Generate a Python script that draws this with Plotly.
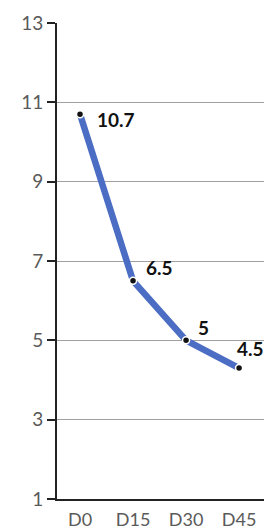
import plotly.graph_objects as go

categories = ["D0", "D15", "D30", "D45"]
values = [10.7, 6.5, 5.0, 4.3]
labels = ["10.7", "6.5", "5", "4.5"]
y_ticks = [1, 3, 5, 7, 9, 11, 13]

FONT = "Lato, Open Sans, DejaVu Sans"

fig = go.Figure()
fig.add_trace(go.Scatter(
    x=categories, y=values, mode="lines+markers",
    line=dict(color="#4c6dc4", width=6.5),
    marker=dict(color="#111111", size=7, line=dict(color="white", width=1.5)),
    cliponaxis=False, hoverinfo="skip",
))

# data labels (offsets in pixels relative to each point)
label_style = [
    dict(xanchor="left", yanchor="middle", xshift=15, yshift=-5),
    dict(xanchor="left", yanchor="middle", xshift=11, yshift=13),
    dict(xanchor="left", yanchor="middle", xshift=10, yshift=13),
    dict(xanchor="left", yanchor="middle", xshift=-4, yshift=20),
]
for c, v, t, s in zip(categories, values, labels, label_style):
    fig.add_annotation(
        x=c, y=v, text="<b>%s</b>" % t, showarrow=False,
        font=dict(family=FONT, size=19, color="#111111"), **s,
    )

fig.update_layout(
    width=264, height=531,
    margin=dict(l=57, r=0, t=23, b=32, autoexpand=False),
    paper_bgcolor="white", plot_bgcolor="white",
    showlegend=False,
    font=dict(family=FONT, size=18, color="#5a5a5a"),
)
fig.update_xaxes(
    type="category", range=[-0.434, 3.47],
    showline=True, linecolor="#222222", linewidth=2,
    showgrid=False, ticks="outside", ticklen=3, tickcolor="rgba(0,0,0,0)",
    tickfont=dict(family=FONT, size=18, color="#5a5a5a"),
)
fig.update_yaxes(
    range=[1, 13], tickvals=y_ticks,
    showline=True, linecolor="#222222", linewidth=2,
    showgrid=True, gridcolor="#a0a0a0", gridwidth=1,
    ticks="outside", ticklen=8, tickcolor="#222222", tickwidth=1.5,
    tickfont=dict(family=FONT, size=19, color="#5a5a5a"),
    zeroline=False,
)

fig.write_html(
    "out.html",
    config={"displayModeBar": False},
    post_script="document.body.style.margin='0';document.body.style.overflow='hidden';",
)
